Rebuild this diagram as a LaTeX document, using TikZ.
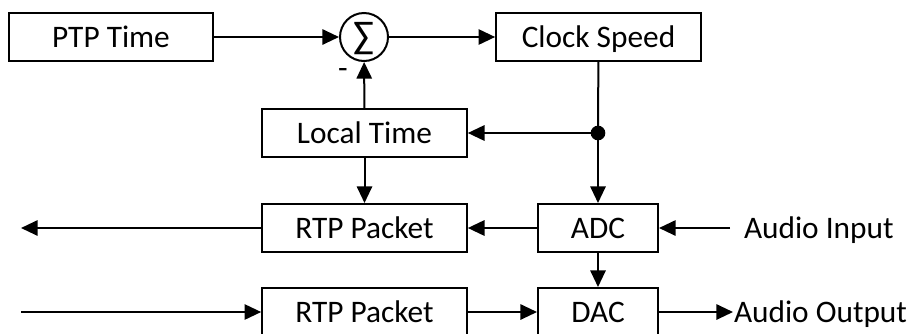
\documentclass[tikz,border=0pt]{standalone}
\usepackage{fontspec}
\setmainfont{Carlito}
\usetikzlibrary{arrows.meta}
\begin{document}
\begin{tikzpicture}[x=0.75pt,y=-0.75pt,
  line width=1.5pt,
  font=\fontsize{23.5}{28}\selectfont,
  capped/.style={text height=15pt, text depth=0pt},
  block/.style={draw, rectangle, minimum height=36pt, inner sep=0pt, capped},
  wide/.style={block, minimum width=153.5pt},
  narrow/.style={block, minimum width=90pt},
  summer/.style={draw, circle, minimum size=36pt, inner sep=0pt},
  label/.style={inner sep=0pt, anchor=west, capped},
  arr/.style={-{Triangle[length=12.5pt,width=11.5pt]}},
  dot/.style={circle, fill, inner sep=0pt, minimum size=11pt}]
\useasboundingbox (0,0) rectangle (912,333);

% top row
\node[wide]   (ptp)   at (111,37)   {PTP Time};
\node[summer] (sum)   at (364,37)   {};
\node (sigma) at (364,39) {\fontsize{29}{30}\selectfont∑};
\node[wide]   (clock) at (598.5,37) {Clock Speed};
\node[capped, inner sep=0pt] (minus) at (343,68) {-};

% feedback
\node[wide] (local) at (364.5,133) {Local Time};
\node[dot]  (junc)  at (598,133) {};

% outgoing path
\node[wide]   (rtpout) at (364.5,228) {RTP Packet};
\node[narrow] (adc)    at (598,228)   {ADC};
\node[label]  (ain)    at (743,228)   {Audio Input};
\coordinate   (outend) at (21,228);
\coordinate   (ainstart) at (730,228);

% incoming path
\node[wide]   (rtpin) at (364.5,312) {RTP Packet};
\node[narrow] (dac)   at (598,312)   {DAC};
\node[label]  (aout)  at (733,312)   {Audio Output};
\coordinate   (instart) at (21,312);

% connectors
\draw[arr] (ptp) -- (sum);
\draw[arr] (sum) -- (clock);
\draw (clock) -- (junc.center);
\draw[arr] (junc.center) -- (adc);
\draw[arr] (junc.center) -- (local);
\draw[arr] (local) -- (sum);
\draw[arr] (local) -- (rtpout);
\draw[arr] (adc) -- (rtpout);
\draw[arr] (rtpout) -- (outend);
\draw[arr] (ainstart) -- (adc);
\draw[arr] (adc) -- (dac);
\draw[arr] (instart) -- (rtpin);
\draw[arr] (rtpin) -- (dac);
\draw[arr] (dac) -- (aout.west);
\end{tikzpicture}
\end{document}
